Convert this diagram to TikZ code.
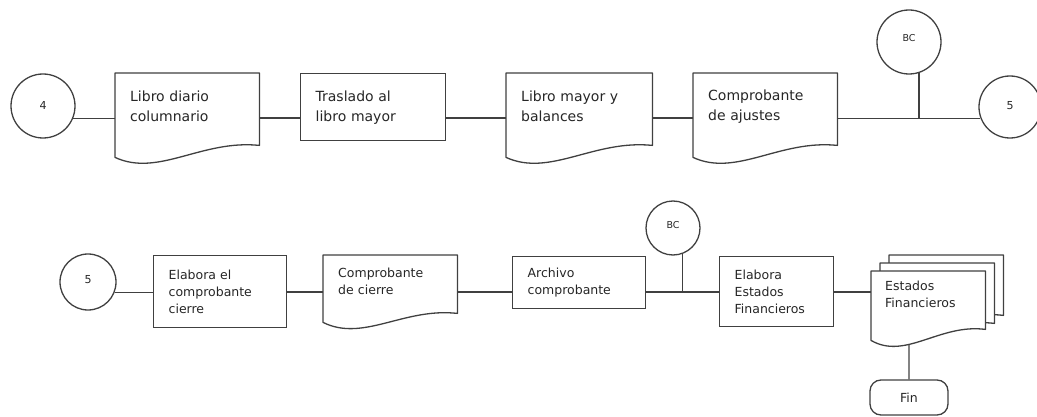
\documentclass[tikz,border=0pt]{standalone}
\usepackage{fontspec}
\setmainfont{DejaVu Sans}
\usetikzlibrary{calc,intersections,backgrounds}
\tikzset{
  flow/.style={draw=black!75, line width=1.3pt},
  big/.style={font=\fontsize{14}{20}\selectfont},
  small/.style={font=\fontsize{12.5}{17}\selectfont},
  procbox/.style={flow, rectangle, anchor=north west, align=left,
    inner xsep=15pt, inner ysep=0pt, text=black!85},
  docnode/.style={rectangle, anchor=north west, align=left,
    inner xsep=15pt, inner ysep=0pt, text=black!85},
  connector/.style={circle, flow, inner sep=0pt, text=black!85,
    font=\fontsize{11}{11}\selectfont},
  tiny/.style={font=\fontsize{9.5}{10}\selectfont},
  terminal/.style={flow, rectangle, rounded corners=11pt, text=black!85},
  docline/.style={flow, fill=white, line join=round},
  link/.style={flow},
}
% document symbol: #2 node, #3 drop of the right corner, #4 drop of the left corner
\newcommand\docoutline[4][]{%
  \draw[docline,#1] (#2.north west) -- (#2.north east) -- ([yshift=-#3pt]#2.south east)
    .. controls ($(#2.south west)!0.6!(#2.south east)+(0,#3-6)$)
    and ($(#2.south west)!0.3!(#2.south east)+(0,#4+20)$)
    .. ([yshift=-#4pt]#2.south west) -- cycle;}
\begin{document}
\begin{tikzpicture}[x=1pt,y=-1pt]
\useasboundingbox (0,0) rectangle (1037,417);

% first row
\node[connector, minimum size=64pt] (c4) at (43,106) {\raisebox{2pt}{4}};
\node[docnode, big, text width=114pt, minimum height=66pt] (d1) at (115,73) {Libro diario\\columnario};
\node[procbox, big, text width=115pt, minimum height=67pt] (b2) at (300,73) {Traslado al\\libro mayor};
\node[docnode, big, text width=116pt, minimum height=66pt] (d3) at (506,73) {Libro mayor y\\balances};
\node[docnode, big, text width=114pt, minimum height=66pt] (d4) at (693,73) {Comprobante\\de ajustes};
\node[connector, tiny, minimum size=64pt] (bc1) at (909,42) {\raisebox{9pt}{BC}};
\node[connector, minimum size=62pt] (c5a) at (1010,107) {\raisebox{4pt}{5}};

% second row
\node[connector, minimum size=56pt] (c5b) at (88,282) {\raisebox{5pt}{5}};
\node[procbox, small, text width=103pt, minimum height=72pt] (b5) at (153,255) {Elabora el\\comprobante\\cierre};
\node[docnode, small, text width=104pt, minimum height=53pt] (d6) at (323,255) {Comprobante\\de cierre};
\node[procbox, small, text width=103pt, minimum height=52pt] (b7) at (512,256) {Archivo\\comprobante};
\node[connector, tiny, minimum size=54pt] (bc2) at (673,228) {\raisebox{6pt}{BC}};
\node[procbox, small, text width=84pt, minimum height=70pt] (b8) at (719,256) {Elabora\\Estados\\Financieros};
\node[docnode, inner xsep=0pt, minimum width=114pt, minimum height=46pt] (d9r) at (889,255) {};
\node[docnode, inner xsep=0pt, minimum width=114pt, minimum height=46pt] (d9m) at (880,263) {};
\node[docnode, small, inner xsep=14pt, text width=86pt, minimum height=46pt] (d9) at (871,271) {Estados\\Financieros};
\node[terminal, small, minimum width=78pt, minimum height=35pt] (fin) at (909,397.5) {Fin};

% document outlines behind the texts
\begin{pgfonlayer}{background}
  \docoutline{d1}{6}{18}
  \docoutline{d3}{6}{18}
  \docoutline{d4}{6}{18}
  \docoutline{d6}{5}{14}
  \docoutline{d9r}{14}{23}
  \docoutline{d9m}{14}{23}
  \docoutline[name path global=front]{d9}{12}{23}
\end{pgfonlayer}

% connectors
\coordinate (r1) at (0,118);
\coordinate (r2) at (0,292);
\draw[link] (c4.-22) -- (d1.west |- c4.-22);
\draw[link] (d1.east |- r1) -- (b2.west |- r1);
\draw[link] (b2.east |- r1) -- (d3.west |- r1);
\draw[link] (d3.east |- r1) -- (d4.west |- r1);
\draw[link] (d4.east |- c5a.201) -- (c5a.201);
\draw[link] (bc1.-72) -- (bc1.-72 |- c5a.201);

\draw[link] (c5b.-21) -- (b5.west |- c5b.-21);
\draw[link] (b5.east |- r2) -- (d6.west |- r2);
\draw[link] (d6.east |- r2) -- (b7.west |- r2);
\draw[link] (b7.east |- r2) -- (b8.west |- r2);
\draw[link] (bc2.-70) -- (bc2.-70 |- r2);
\draw[link] (b8.east |- r2) -- (d9.west |- r2);
\path[name path=drop] (fin.north) -- ++(0,-80);
\draw[link, name intersections={of=front and drop, by=d9x}] (fin.north) -- (d9x);
\end{tikzpicture}
\end{document}
